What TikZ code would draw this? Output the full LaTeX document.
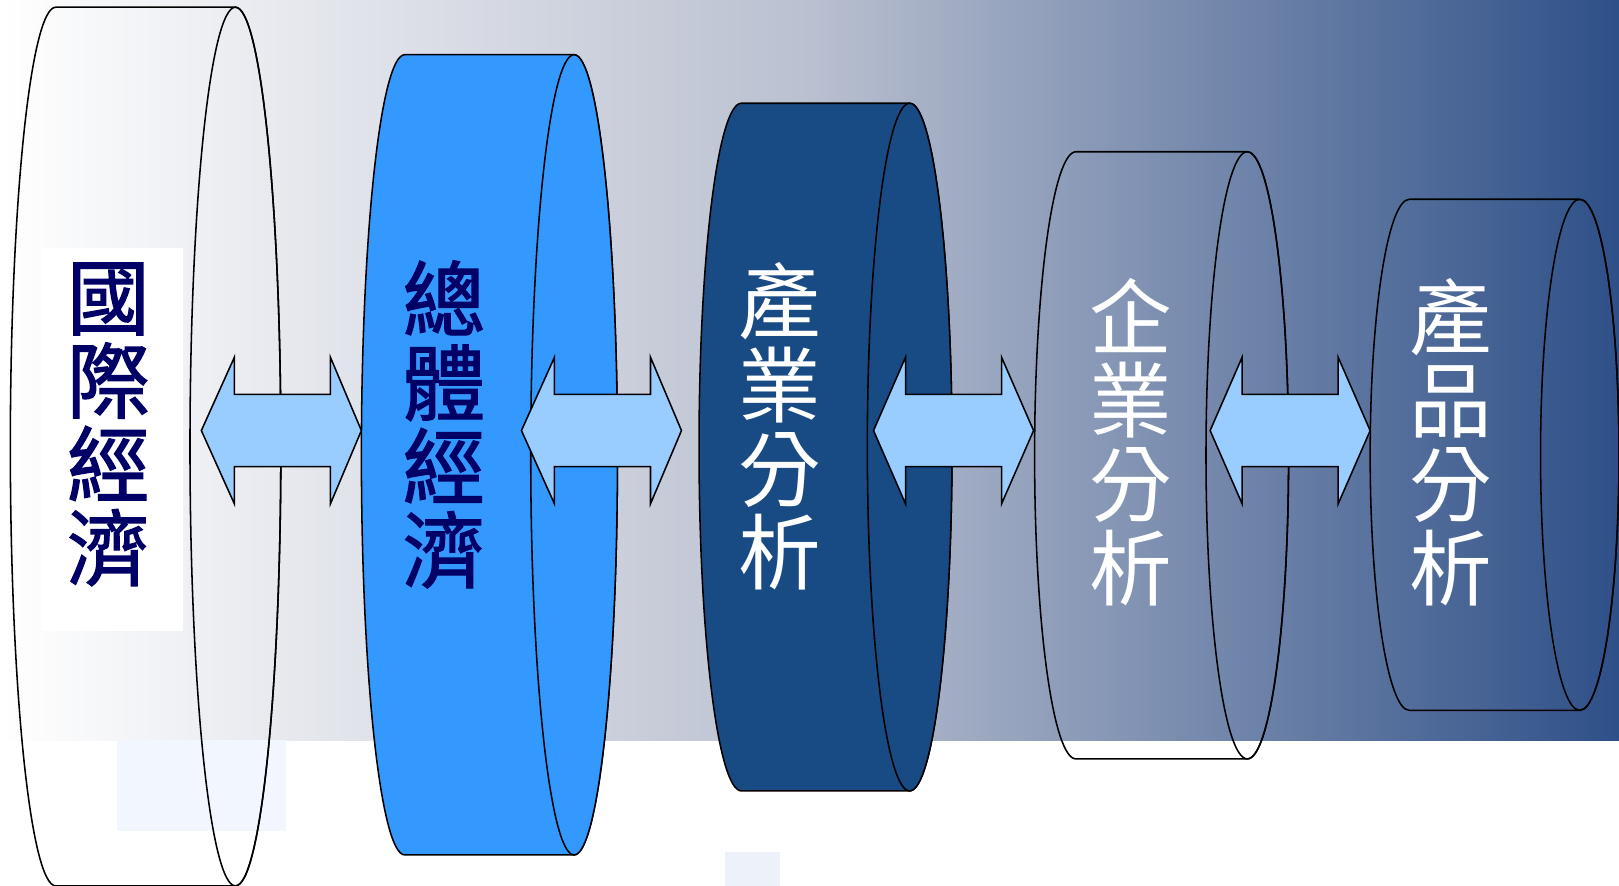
\documentclass[tikz,border=0pt]{standalone}
\usepackage{fontspec}
\newfontfamily\cjk{Noto Sans CJK TC}
\newfontfamily\cjkmed[FakeBold=1.6]{Noto Sans CJK TC}
\definecolor{bgmid}{RGB}{186,192,208}
\definecolor{bgend}{RGB}{46,80,136}
\definecolor{cylblue}{RGB}{51,153,255}
\definecolor{cyldark}{RGB}{24,74,132}
\definecolor{arrowfill}{RGB}{153,204,255}
\definecolor{navytext}{RGB}{0,0,102}
\definecolor{faintblue}{RGB}{242,246,254}
\definecolor{faintblue2}{RGB}{236,241,250}
\newcommand\cylshape[6]{%
  \path[cylline,#1] (#2,#4+#6) -- (#3,#4+#6)
    arc[start angle=90,end angle=-90,x radius=#5,y radius=#6]
    -- (#2,#4-#6)
    arc[start angle=270,end angle=90,x radius=#5,y radius=#6] -- cycle;
  \path[cylline,#1] (#3,#4) ellipse[x radius=#5,y radius=#6];
}
\newcommand\dblarrow[4]{%
  \path[blockarrow] (#1,441) -- (#2,512) -- (#2,476) -- (#3,476) -- (#3,512)
    -- (#4,441) -- (#3,370) -- (#3,406) -- (#2,406) -- (#2,370) -- cycle;
}
\tikzset{
  cylline/.style={draw=black, line width=1.5pt},
  blockarrow/.style={draw=black, line width=1.5pt, fill=arrowfill, line join=miter},
  cjklabel/.style={font=\cjk\fontsize{80}{81}\selectfont, align=center, inner sep=0pt},
  cjkbold/.style={cjklabel, text=navytext, font=\cjkmed\fontsize{80}{81}\selectfont},
}
\begin{document}
\begin{tikzpicture}[x=1pt,y=1pt]
\useasboundingbox (0,0) rectangle (1568,858);
% background gradient
\shade[left color=white, right color=bgmid] (0,141) rectangle (784.5,858);
\shade[left color=bgmid, right color=bgend] (784,141) rectangle (1568,858);
% faint leftovers
\fill[faintblue] (113,53) rectangle (277,141);
\fill[faintblue2] (702,0) rectangle (755,33);
% cylinders
\cylshape{}{54}{228}{425.5}{44}{425.5}
\cylshape{fill=cylblue}{392}{556}{417.5}{42}{387.5}
\cylshape{fill=cyldark}{718}{881}{425}{41}{333}
\cylshape{}{1042}{1208}{417}{40}{294}
\cylshape{}{1365}{1530}{417.5}{38}{247.5}
% arrows
\dblarrow{195}{227}{320}{350}
\dblarrow{505}{537}{630}{660}
\dblarrow{846}{877}{970}{1001}
\dblarrow{1172}{1203}{1296}{1327}
% labels
\node[fill=white, minimum width=137pt, minimum height=371pt, inner sep=0pt] (bg1) at (108.5,432.5) {};
\node[cjkbold] (t1) at (105,447) {國\\際\\經\\濟};
\node[cjkbold] (t2) at (430,447) {總\\體\\經\\濟};
\node[cjklabel, text=white] (t3) at (755,445) {產\\業\\分\\析};
\node[cjklabel, text=white] (t4) at (1095,430) {企\\業\\分\\析};
\node[cjklabel, text=white] (t5) at (1405,430) {產\\品\\分\\析};
\end{tikzpicture}
\end{document}
